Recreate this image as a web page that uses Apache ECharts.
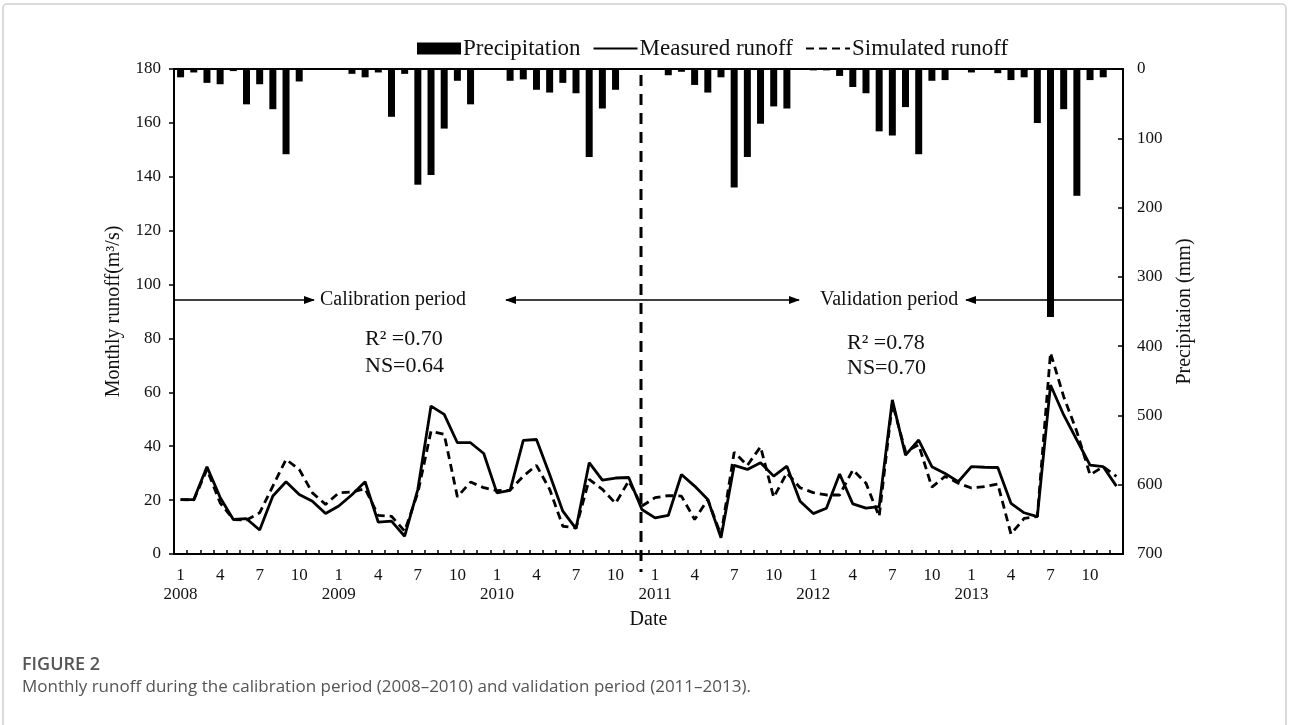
<!DOCTYPE html>
<html><head><meta charset="utf-8">
<script src="https://cdn.jsdelivr.net/npm/echarts@6/dist/echarts.min.js"></script>
<style>html,body{margin:0;padding:0;background:#fff}#c{width:1290px;height:725px}</style>
</head><body><div id="c"></div>
<script>
const years = ['2008','2009','2010','2011','2012','2013'];
const monthNumbers = [1,2,3,4,5,6,7,8,9,10,11,12];
const measuredRunoff = [
  20.2, 20.2, 32.4, 21, 12.8, 13.1, 8.9, 21.5, 26.8, 22.1, 19.6, 15,
  17.8, 22, 26.8, 11.8, 12.2, 6.6, 24, 54.9, 51.8, 41.3, 41.3, 37.3,
  22.7, 23.6, 42.2, 42.5, 29.5, 15.9, 9.4, 33.9, 27.4, 28.2, 28.4, 16.5,
  13.4, 14.3, 29.5, 25.2, 20.2, 6, 32.9, 31.4, 33.9, 28.9, 32.6, 19.6,
  15, 17, 29.7, 18.6, 17, 17.6, 57.2, 36.7, 42.3, 32.4, 29.9, 26.8,
  32.4, 32.2, 32.1, 18.8, 15.3, 13.9, 62.7, 51.6, 42.3, 33, 32.4, 25.2
];
const simulatedRunoff = [
  20.2, 20, 31.4, 19, 12.8, 12.6, 15.3, 25.2, 35.1, 31.4, 22.7, 18.4,
  22.7, 23, 24.2, 14.3, 14, 8.5, 22.7, 45.6, 44.4, 21.2, 26.7, 24.6,
  23.5, 23.7, 28.9, 32.9, 24, 10.3, 9.7, 27.7, 24, 18.8, 27.1, 17.8,
  20.9, 21.7, 21.5, 12.8, 20.2, 7, 37.8, 32.9, 39.8, 21, 30.1, 24.6,
  22.8, 21.9, 21.9, 31.2, 26.3, 13.9, 55.9, 38, 40.5, 24.8, 28.8, 26.3,
  24.5, 25, 26, 7.4, 13.2, 13.9, 74.7, 58.4, 45.4, 29.4, 32.4, 28.8
];
const precipitation = [
  12, 5, 20, 22, 3, 51, 22, 58, 123, 18, 0, 0,
  0, 7, 12, 5, 69, 7, 167, 153, 86, 17, 51, 0,
  0, 17, 15, 30, 34, 20, 35, 127, 57, 30, 0, 0,
  0, 9, 4, 23, 34, 12, 171, 127, 79, 54, 57, 0,
  2, 2, 10, 26, 35, 90, 96, 55, 123, 17, 16, 0,
  5, 0, 6, 16, 12, 78, 358, 58, 183, 16, 12, 0
];
const leftTicks = {min: 0, max: 180, interval: 20};
const rightTicks = {min: 0, max: 700, interval: 100};

const categories = [];
years.forEach(y => monthNumbers.forEach(m => categories.push(m === 1 ? ('1\n' + y) : String(m))));

const serif = '"Liberation Serif", "Times New Roman", serif';
const chart = echarts.init(document.getElementById('c'));

function arrowHead(x, y, dir) {
  const L = 11, H = 4;
  return {type: 'polygon', shape: {points: [[x, y], [x - dir * L, y - H], [x - dir * L, y + H]]}, style: {fill: '#000'}, z: 50};
}
function hline(x1, x2, y) {
  return {type: 'line', shape: {x1: x1, y1: y, x2: x2, y2: y}, style: {stroke: '#000', lineWidth: 1.5}, z: 50};
}
function txt(x, y, s, size, align) {
  return {type: 'text', x: x, y: y, style: {text: s, font: size + 'px ' + serif, fill: '#111', align: align || 'left', verticalAlign: 'middle'}, z: 50};
}
const ay = 300;
const hiddenSymbol = {color: 'rgba(0,0,0,0)', borderColor: 'rgba(0,0,0,0)', borderWidth: 0, opacity: 0};

chart.setOption({
  animation: false,
  backgroundColor: '#fff',
  grid: {left: 174, right: 167, top: 69, bottom: 171, show: true, borderColor: '#000', borderWidth: 2, backgroundColor: 'transparent'},
  legend: {
    left: 417, top: 37, itemWidth: 44, itemHeight: 12, itemGap: 12, padding: 0,
    textStyle: {fontFamily: serif, fontSize: 23, color: '#111', padding: [0, 0, 0, -3]},
    data: [
      {name: 'Precipitation', icon: 'rect'},
      {name: 'Measured runoff', itemStyle: hiddenSymbol},
      {name: 'Simulated runoff', itemStyle: hiddenSymbol}
    ]
  },
  xAxis: {
    type: 'category', data: categories, boundaryGap: true,
    name: 'Date', nameLocation: 'middle', nameGap: 56,
    nameTextStyle: {fontFamily: serif, fontSize: 20, color: '#111'},
    axisLine: {lineStyle: {color: '#000', width: 2}},
    axisTick: {show: true, inside: true, length: 4, interval: 0, lineStyle: {color: '#000', width: 1.5}},
    axisLabel: {interval: 2, fontFamily: serif, fontSize: 17, color: '#111', lineHeight: 19, margin: 12}
  },
  yAxis: [
    {
      type: 'value', min: leftTicks.min, max: leftTicks.max, interval: leftTicks.interval,
      name: 'Monthly runoff(m³/s)', nameLocation: 'middle', nameGap: 50, nameRotate: 90,
      nameTextStyle: {fontFamily: serif, fontSize: 20, color: '#111'},
      axisLine: {show: true, lineStyle: {color: '#000', width: 2}},
      axisTick: {show: true, inside: false, length: 5, lineStyle: {color: '#000', width: 1.5}},
      axisLabel: {fontFamily: serif, fontSize: 17, color: '#111', margin: 13},
      splitLine: {show: false}
    },
    {
      type: 'value', inverse: true, min: rightTicks.min, max: rightTicks.max, interval: rightTicks.interval,
      name: 'Precipitaion (mm)', nameLocation: 'middle', nameGap: 52, nameRotate: 90,
      nameTextStyle: {fontFamily: serif, fontSize: 20, color: '#111'},
      axisLine: {show: true, lineStyle: {color: '#000', width: 2}},
      axisTick: {show: true, inside: true, length: 5, lineStyle: {color: '#000', width: 1.5}},
      axisLabel: {fontFamily: serif, fontSize: 17, color: '#111', margin: 14},
      splitLine: {show: false}
    }
  ],
  series: [
    {name: 'Precipitation', type: 'bar', yAxisIndex: 1, data: precipitation, barWidth: 7, itemStyle: {color: '#000'}, z: 2},
    {name: 'Measured runoff', type: 'line', yAxisIndex: 0, data: measuredRunoff, symbol: 'none', lineStyle: {color: '#000', width: 2.8}, itemStyle: {color: '#000'}, z: 3},
    {name: 'Simulated runoff', type: 'line', yAxisIndex: 0, data: simulatedRunoff, symbol: 'none', lineStyle: {color: '#000', width: 2.8, type: [8, 5]}, itemStyle: {color: '#000'}, z: 4}
  ],
  graphic: [
    {type: 'rect', shape: {x: 3, y: 4, width: 1283, height: 760, r: 4}, style: {fill: 'none', stroke: '#d0d0d0', lineWidth: 1.5}, z: 0, silent: true},
    {type: 'line', shape: {x1: 641, y1: 75, x2: 641, y2: 572}, style: {stroke: '#000', lineWidth: 3, lineDash: [11, 8]}, z: 40},
    hline(174, 314, ay), arrowHead(315, ay, 1),
    txt(320, ay, 'Calibration period', 20),
    hline(506, 799, ay), arrowHead(505, ay, -1), arrowHead(800, ay, 1),
    txt(820, ay, 'Validation period', 20),
    hline(966, 1124, ay), arrowHead(965, ay, -1),
    txt(365, 339, 'R² =0.70', 22), txt(365, 366, 'NS=0.64', 22),
    txt(847, 343, 'R² =0.78', 22), txt(847, 368, 'NS=0.70', 22),
    {type: 'text', x: 22, y: 656, style: {text: 'FIGURE 2', font: '600 18px "Open Sans", sans-serif', fill: '#555'}},
    {type: 'text', x: 22, y: 679, style: {text: 'Monthly runoff during the calibration period (2008–2010) and validation period (2011–2013).', font: '17px "Open Sans", sans-serif', fill: '#555'}}
  ]
});
</script>
</body></html>
